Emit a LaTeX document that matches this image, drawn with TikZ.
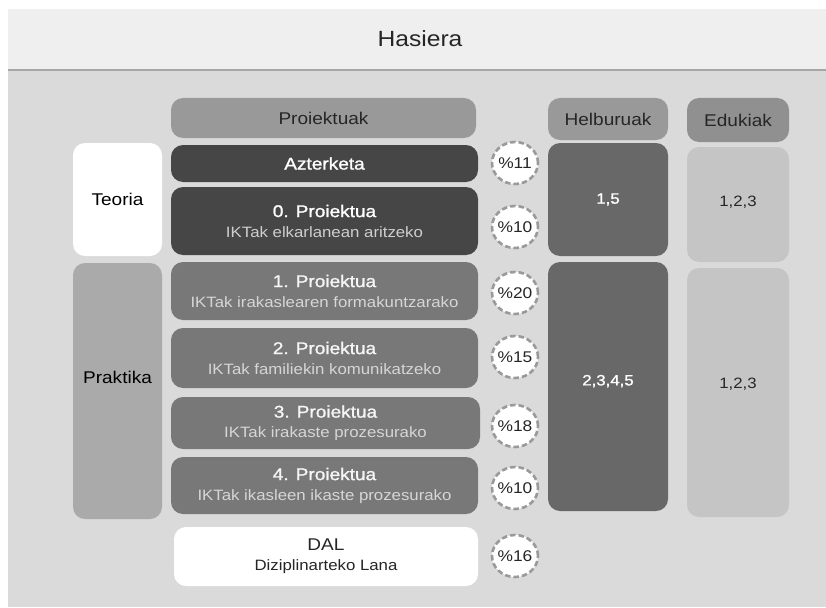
\documentclass[tikz,border=0pt]{standalone}
\usepackage{fontspec}
\setmainfont{Liberation Sans}[FakeStretch=1.12]
\newfontfamily\medfont{Liberation Sans}[FakeStretch=1.12, FakeBold=1.2]
\usetikzlibrary{positioning,shapes.geometric}
\usepackage{xcolor}

\definecolor{pageBg}{HTML}{DADADA}
\definecolor{headBg}{HTML}{EFEFEF}
\definecolor{headLine}{HTML}{A6A6A6}
\definecolor{colHead}{HTML}{999999}
\definecolor{projDark}{HTML}{464646}
\definecolor{projMid}{HTML}{787878}
\definecolor{praktBg}{HTML}{AAAAAA}
\definecolor{helbBg}{HTML}{686868}
\definecolor{eduBg}{HTML}{C5C5C5}
\definecolor{pctLine}{HTML}{9A9A9A}
\definecolor{subDark}{HTML}{CFCFCF}
\definecolor{subMid}{HTML}{D6D6D6}

\newcommand{\subline}[1]{{\fontsize{15}{18}\selectfont #1}}
\newcommand{\lift}[2]{\raisebox{#1}[0.72em][0.2em]{#2}}
\newcommand{\pcttext}[1]{\makebox[0pt]{\%#1}}

\tikzset{
  box/.style={rounded corners=12pt, inner sep=0pt, align=center, font=\fontsize{17}{20}\selectfont},
  headbox/.style={box, fill=colHead, text=black!85},
  darkproj/.style={box, fill=projDark, text=white, minimum width=307pt},
  midproj/.style={box, fill=projMid, text=white!96!black, minimum width=307pt},
  pct/.style={ellipse, draw=pctLine, line width=2.6pt, dash pattern=on 5.5pt off 3pt,
    fill=white, minimum width=46pt, minimum height=42pt, inner sep=0pt,
    font=\fontsize{15.5}{18}\selectfont, text=black!85}
}

\begin{document}
\begin{tikzpicture}[x=1pt, y=-1pt]
    \useasboundingbox (0,0) rectangle (826,607);
    \fill[white] (0,0) rectangle (826,607);

    % Header band
    \fill[headBg] (8,9) rectangle (826,69);
    \fill[pageBg] (8,71) rectangle (826,607);
    \fill[headLine] (8,69) rectangle (826,71);
    \node[font=\fontsize{22}{26}\selectfont, text=black!85] (hasiera) at (420,39) {Hasiera};

    % Column headers
    \node[headbox, minimum width=305pt, minimum height=40pt] (proiektuak) at (323.5,118) {Proiektuak};
    \node[headbox, minimum width=120pt, minimum height=42pt] (helburuak) at (608,119) {Helburuak};
    \node[headbox, minimum width=102pt, minimum height=44pt, fill=colHead!94!black] (edukiak) at (738,120) {Edukiak};

    % Left column: Teoria / Praktika
    \node[box, fill=white, text=black, minimum width=89pt, minimum height=113pt] (teoria) at (117.5,199.5) {Teoria};
    \node[box, fill=praktBg, text=black, minimum width=89pt, minimum height=256pt] (praktika) at (117.5,391) {\lift{12pt}{Praktika}};

    % Projects
    \node[darkproj, minimum height=37pt] (azterketa) at (324.5,163.5) {\medfont Azterketa};
    \node[darkproj, minimum height=68pt] (proj0) at (324.5,221) {{\medfont 0. Proiektua}\\\textcolor{subDark}{\subline{IKTak elkarlanean aritzeko}}};
    \node[midproj, minimum height=58pt] (proj1) at (324.5,291) {{\medfont 1. Proiektua}\\\textcolor{subMid}{\subline{IKTak irakaslearen formakuntzarako}}};
    \node[midproj, minimum height=60pt] (proj2) at (324.5,358) {{\medfont 2. Proiektua}\\\textcolor{subMid}{\subline{IKTak familiekin komunikatzeko}}};
    \node[midproj, minimum height=52pt, minimum width=309pt] (proj3) at (325.5,423) {{\medfont 3. Proiektua}\\\textcolor{subMid}{\subline{IKTak irakaste prozesurako}}};
    \node[midproj, minimum height=57pt] (proj4) at (324.5,485.5) {{\medfont 4. Proiektua}\\\textcolor{subMid}{\subline{IKTak ikasleen ikaste prozesurako}}};
    \node[box, fill=white, text=black!85, minimum width=304pt, minimum height=59pt] (dal) at (326,556.5) {DAL\\\subline{Diziplinarteko Lana}};

    % Percentages
    \node[pct] (pctAzt) at (515,163) {\pcttext{11}};
    \node[pct] (pctZero) at (515,227) {\pcttext{10}};
    \node[pct] (pctOne) at (515,293) {\pcttext{20}};
    \node[pct] (pctTwo) at (515,357) {\pcttext{15}};
    \node[pct] (pctThree) at (515,426) {\pcttext{18}};
    \node[pct] (pctFour) at (515,488) {\pcttext{10}};
    \node[pct] (pctDal) at (515,556) {\pcttext{16}};

    % Helburuak
    \node[box, fill=helbBg, text=white, minimum width=120pt, minimum height=113pt, font=\fontsize{15}{18}\selectfont] (helbTeo) at (608,199.5) {\medfont 1,5};
    \node[box, fill=helbBg, text=white, minimum width=120pt, minimum height=249pt, font=\fontsize{15}{18}\selectfont] (helbPrak) at (608,386.5) {\lift{5pt}{\medfont 2,3,4,5}};

    % Edukiak
    \node[box, fill=eduBg, text=black!85, minimum width=102pt, minimum height=115pt, font=\fontsize{15}{18}\selectfont] (eduTeo) at (738,204.5) {\lift{2pt}{1,2,3}};
    \node[box, fill=eduBg, text=black!85, minimum width=102pt, minimum height=249pt, font=\fontsize{15}{18}\selectfont] (eduPrak) at (738,392.5) {\lift{8pt}{1,2,3}};
\end{tikzpicture}
\end{document}
